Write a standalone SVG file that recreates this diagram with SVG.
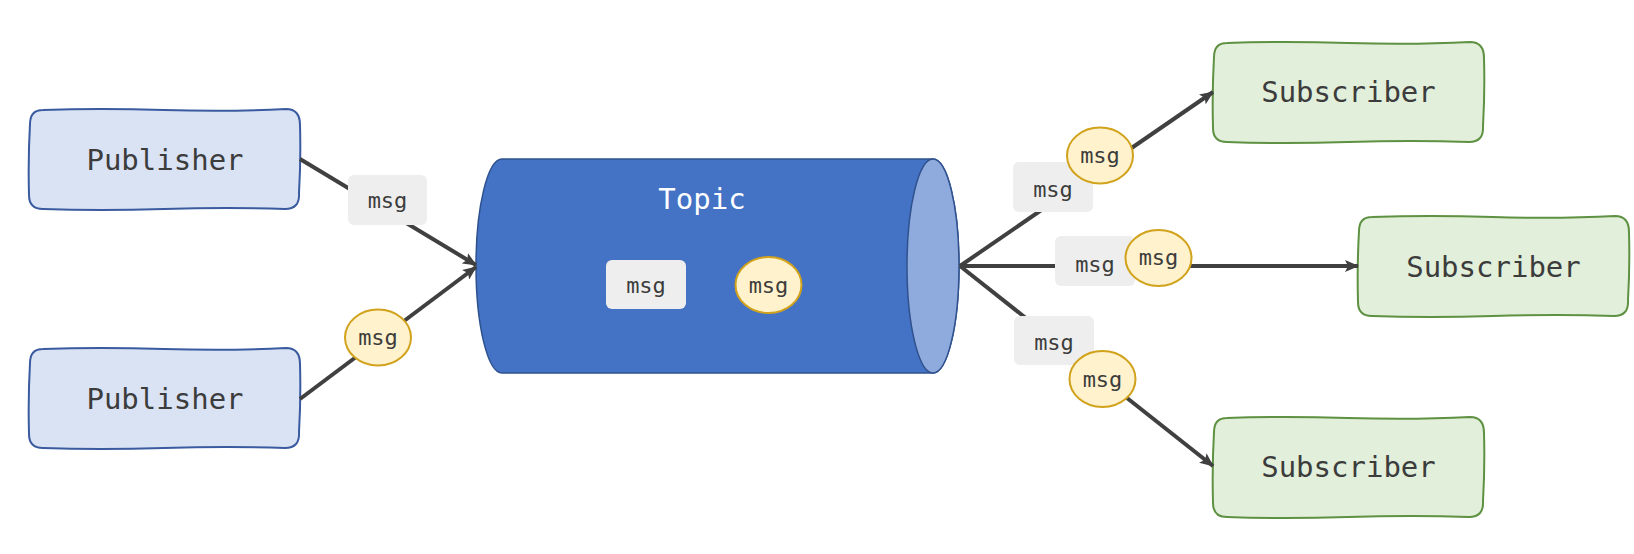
<svg xmlns="http://www.w3.org/2000/svg" width="1634" height="554" viewBox="0 0 1634 554">
  <defs>
    <marker id="arrow" viewBox="0 0 14 12" refX="13" refY="6" markerWidth="14" markerHeight="12" markerUnits="userSpaceOnUse" orient="auto">
      <path d="M0,0 L14,6 L0,12 L3,6 Z" fill="#404040"/>
    </marker>
    <path id="sketchbox" d="M14,1 Q70,-1 135,1 T257,0 Q271,0 271,16 Q272,50 270,84 Q271,100 256,100 Q200,98 135,100 T14,100 Q0,100 0,86 Q-1,50 1,15 Q1,1 14,1 Z"/>
  </defs>
  <style>
    .pub { fill: #DAE3F3; stroke: #3A5BA0; stroke-width: 2; }
    .sub { fill: #E2EFDA; stroke: #5E9142; stroke-width: 2; }
    .lbl { font-family: "DejaVu Sans Mono", "Liberation Mono", monospace; font-size: 29px; fill: #3C3C3C; text-anchor: middle; }
    .msgt { font-family: "DejaVu Sans Mono", "Liberation Mono", monospace; font-size: 22px; fill: #3C3C3C; text-anchor: middle; }
    .mrect { fill: #EEEEEE; stroke: none; }
    .mell { fill: #FFF2CC; stroke: #D1A21C; stroke-width: 2; }
    .edge { stroke: #404040; stroke-width: 4; fill: none; marker-end: url(#arrow); }
  </style>

  <g id="publisher1">
    <use href="#sketchbox" class="pub" transform="translate(29,109)"/>
    <text class="lbl" x="165" y="170">Publisher</text>
  </g>
  <g id="publisher2">
    <use href="#sketchbox" class="pub" transform="translate(29,348)"/>
    <text class="lbl" x="165" y="409">Publisher</text>
  </g>

  <g id="topic">
    <path d="M502,159 L933,159 A26,107 0 0 1 933,373 L502,373 A26,107 0 0 1 502,159 Z" fill="#4472C4" stroke="#2F528F" stroke-width="1.5"/>
    <ellipse cx="933" cy="266" rx="26" ry="107" fill="#8FAADC" stroke="#2F528F" stroke-width="1.5"/>
    <text x="702" y="209" font-family="DejaVu Sans Mono, Liberation Mono, monospace" font-size="29" fill="#FFFFFF" text-anchor="middle">Topic</text>
  </g>
  <g id="topic-msg-rect">
    <rect class="mrect" x="606" y="260" width="80" height="49" rx="6"/>
    <text class="msgt" x="646" y="293">msg</text>
  </g>
  <g id="topic-msg-ellipse">
    <ellipse class="mell" cx="768.5" cy="285" rx="33" ry="28"/>
    <text class="msgt" x="768.5" y="293">msg</text>
  </g>

  <g id="subscriber1">
    <use href="#sketchbox" class="sub" transform="translate(1213,42)"/>
    <text class="lbl" x="1348.5" y="102">Subscriber</text>
  </g>
  <g id="subscriber2">
    <use href="#sketchbox" class="sub" transform="translate(1358,216)"/>
    <text class="lbl" x="1493.5" y="277">Subscriber</text>
  </g>
  <g id="subscriber3">
    <use href="#sketchbox" class="sub" transform="translate(1213,417)"/>
    <text class="lbl" x="1348.5" y="477">Subscriber</text>
  </g>

  <g id="connectors">
    <line class="edge" x1="300" y1="159" x2="476" y2="265"/>
    <line class="edge" x1="300" y1="399" x2="476" y2="267"/>
    <line class="edge" x1="960" y1="266" x2="1213" y2="92"/>
    <line class="edge" x1="960" y1="266" x2="1358" y2="266"/>
    <line class="edge" x1="960" y1="266" x2="1213" y2="466"/>
    <g id="label-pub1-rect">
      <rect class="mrect" x="348" y="175" width="79" height="50" rx="6"/>
      <text class="msgt" x="387.5" y="208">msg</text>
    </g>
    <g id="label-pub2-ellipse">
      <ellipse class="mell" cx="378" cy="337.5" rx="33" ry="28"/>
      <text class="msgt" x="378" y="345">msg</text>
    </g>
    <g id="label-sub1-rect">
      <rect class="mrect" x="1013" y="162" width="80" height="50" rx="6"/>
      <text class="msgt" x="1053" y="197">msg</text>
    </g>
    <g id="label-sub1-ellipse">
      <ellipse class="mell" cx="1100" cy="155.5" rx="33" ry="28"/>
      <text class="msgt" x="1100" y="163">msg</text>
    </g>
    <g id="label-sub2-rect">
      <rect class="mrect" x="1055" y="236" width="80" height="50" rx="6"/>
      <text class="msgt" x="1095" y="272">msg</text>
    </g>
    <g id="label-sub2-ellipse">
      <ellipse class="mell" cx="1158.5" cy="258" rx="33" ry="28"/>
      <text class="msgt" x="1158.5" y="265">msg</text>
    </g>
    <g id="label-sub3-rect">
      <rect class="mrect" x="1014" y="316" width="80" height="49" rx="6"/>
      <text class="msgt" x="1054" y="350">msg</text>
    </g>
    <g id="label-sub3-ellipse">
      <ellipse class="mell" cx="1102.5" cy="379" rx="33" ry="28"/>
      <text class="msgt" x="1102.5" y="387">msg</text>
    </g>
  </g>
</svg>
